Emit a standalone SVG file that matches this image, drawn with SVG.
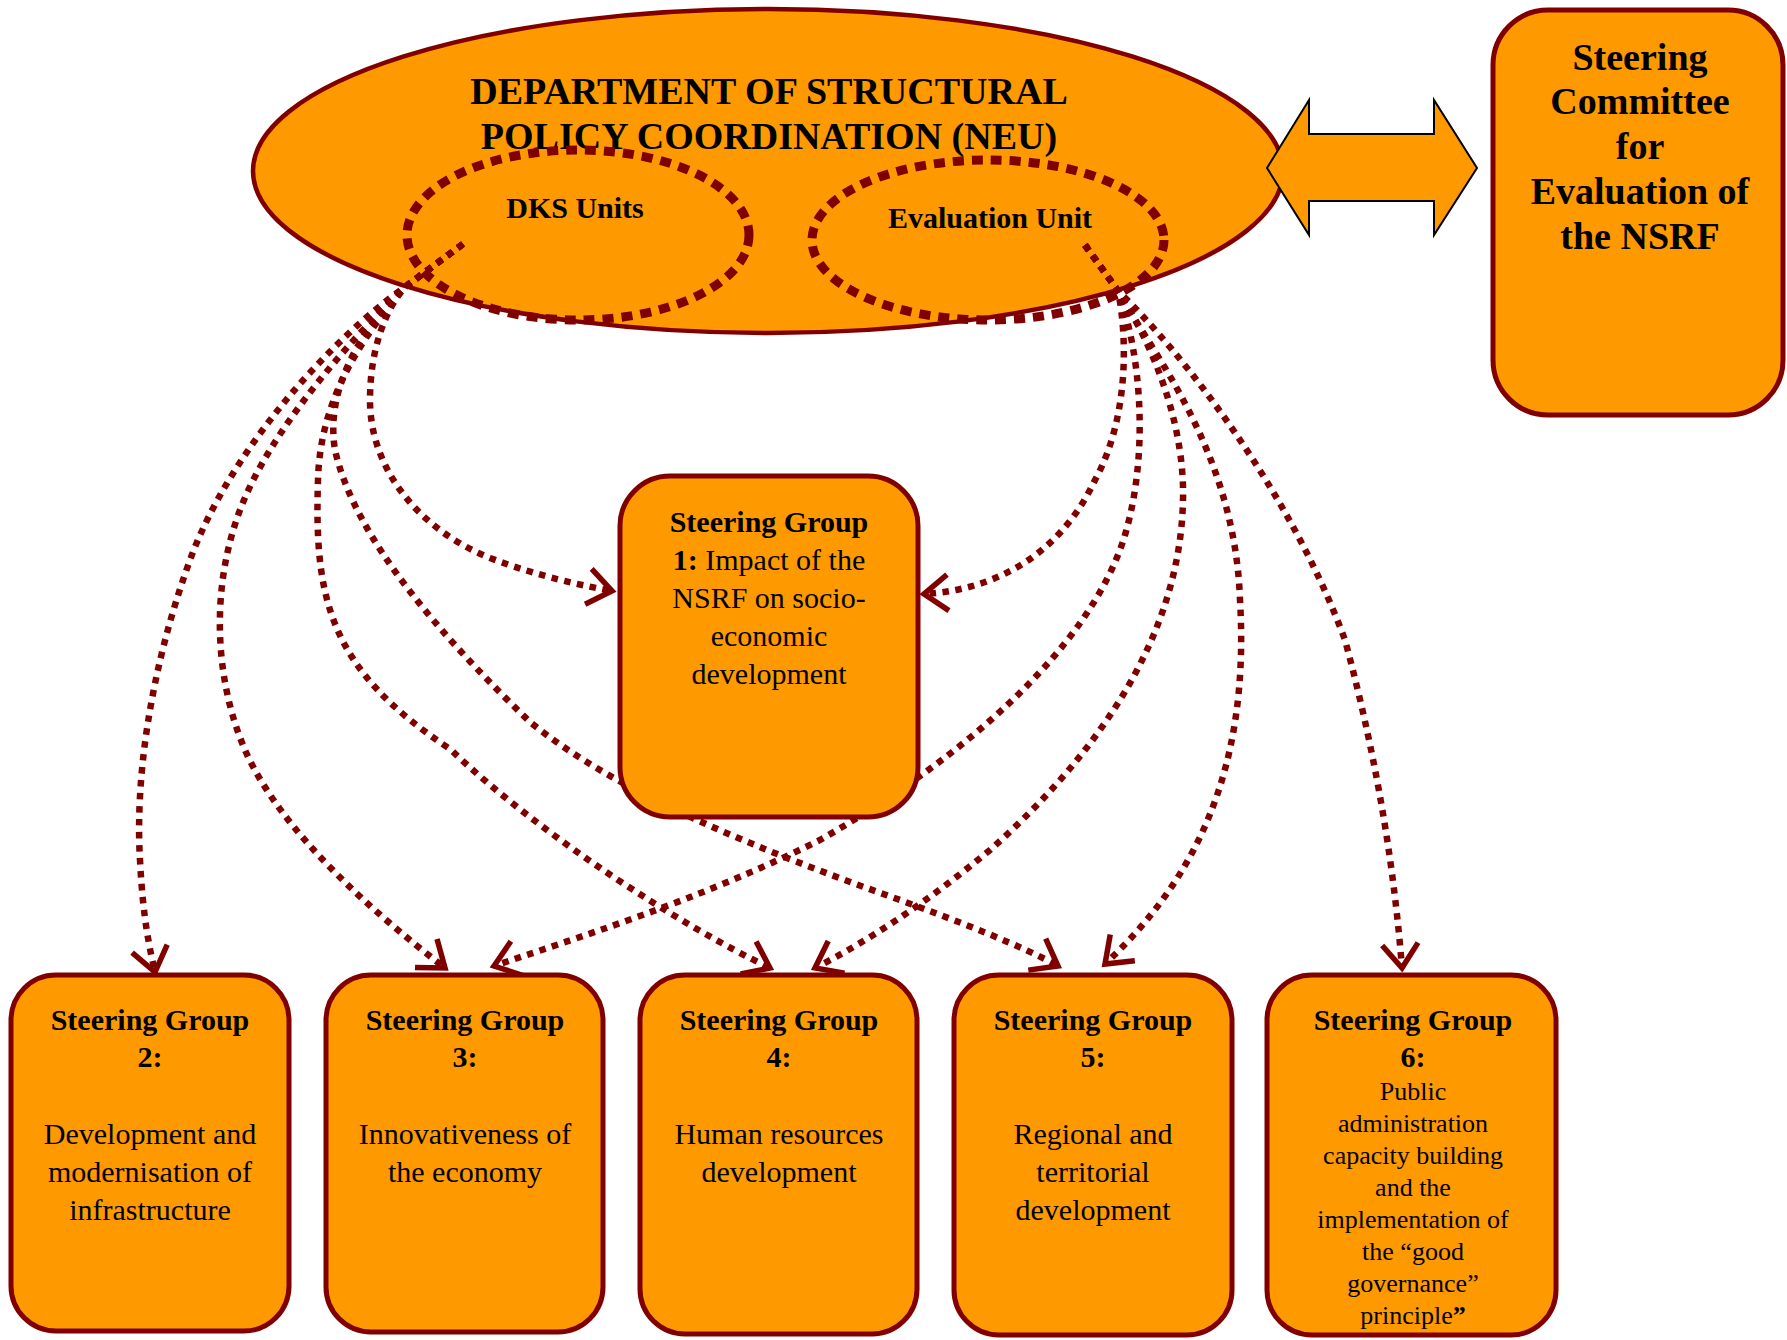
<svg xmlns="http://www.w3.org/2000/svg" width="1787" height="1340" viewBox="0 0 1787 1340">
<style>
.shape{fill:#FF9900;stroke:#800000;stroke-width:5}
.unit{fill:none;stroke:#800000;stroke-width:9;stroke-dasharray:11 8}
.con{fill:none;stroke:#800000;stroke-width:6.5;stroke-dasharray:6.5 6.5;marker-end:url(#arr)}
text{font-family:"Liberation Serif","Times New Roman",serif;fill:#000;text-anchor:middle}
.h{font-size:38px;font-weight:bold}
.u{font-size:30px;font-weight:bold}
.g{font-size:30px;font-weight:bold}
.r{font-size:30px}
.s{font-size:26px}
.bold{font-weight:bold}
</style>
<defs>
<marker id="arr" markerUnits="userSpaceOnUse" markerWidth="40" markerHeight="44" viewBox="0 0 40 44" refX="32" refY="22" orient="auto">
<path d="M8,4 L32,22 L8,40" fill="none" stroke="#800000" stroke-width="5.5" stroke-dasharray="none"/>
</marker>
</defs>
<g id="department">
<ellipse cx="768" cy="171" rx="515" ry="162" fill="#FF9900" stroke="#800000" stroke-width="4.5"/>
<text class="h" x="769" y="104">DEPARTMENT OF STRUCTURAL</text>
<text class="h" x="769" y="149">POLICY COORDINATION (NEU)</text>
</g>
<g id="dks-units">
<ellipse class="unit" cx="578" cy="235" rx="171" ry="85"/>
<text class="u" x="575" y="218">DKS Units</text>
</g>
<g id="evaluation-unit">
<ellipse class="unit" cx="988" cy="240" rx="176" ry="80"/>
<text class="u" x="990" y="228">Evaluation Unit</text>
</g>
<g id="double-arrow">
<polygon points="1267,168 1309,100 1309,134 1434,134 1434,100 1477,168 1434,235 1434,201 1309,201 1309,235" fill="#FF9900" stroke="#000" stroke-width="2"/>
</g>
<g id="steering-committee">
<rect class="shape" x="1493" y="10" width="290" height="405" rx="55"/>
<text class="h" x="1640" y="70">Steering</text>
<text class="h" x="1640" y="114">Committee</text>
<text class="h" x="1640" y="159">for</text>
<text class="h" x="1640" y="204">Evaluation of</text>
<text class="h" x="1640" y="249">the NSRF</text>
</g>
<g id="connectors">
<path class="con" d="M463,244 L405,287 C385,310 370,350 370,400 C370,470 420,530 490,558 C540,577 585,586 612,591"/>
<path class="con" d="M463,244 L405,287 C330,340 230,450 190,560 C150,670 135,780 140,860 C143,920 150,950 155,972"/>
<path class="con" d="M463,244 L405,287 C350,340 270,430 240,510 C210,590 215,680 245,750 C280,830 370,910 445,968"/>
<path class="con" d="M463,244 L405,287 C360,340 320,400 318,480 C314,600 330,670 450,749 C540,835 680,925 770,968"/>
<path class="con" d="M463,244 L405,287 C360,330 325,390 335,450 C355,540 445,640 530,722 C620,795 760,850 900,900 C960,922 1020,945 1058,966"/>
<path class="con" d="M1085,245 L1118,291 C1128,340 1128,420 1095,480 C1060,555 995,590 924,594"/>
<path class="con" d="M1085,245 L1118,291 C1140,350 1150,450 1125,535 C1090,650 960,760 820,840 C700,900 570,940 494,966"/>
<path class="con" d="M1085,245 L1118,291 C1150,340 1185,420 1183,500 C1180,650 1080,770 990,850 C930,900 870,940 815,968"/>
<path class="con" d="M1085,245 L1118,291 C1150,350 1235,450 1240,600 C1250,770 1195,880 1105,964"/>
<path class="con" d="M1085,245 L1118,291 C1180,350 1290,490 1345,640 C1380,770 1395,880 1402,968"/>
</g>
<g id="steering-group-1">
<rect class="shape" x="620" y="476" width="298" height="341" rx="50"/>
<text class="g" x="769" y="532">Steering Group</text>
<text class="r" x="769" y="570"><tspan class="bold">1:</tspan> Impact of the</text>
<text class="r" x="769" y="608">NSRF on socio-</text>
<text class="r" x="769" y="646">economic</text>
<text class="r" x="769" y="684">development</text>
</g>
<g id="steering-group-2">
<rect class="shape" x="11" y="975" width="278" height="356" rx="45"/>
<text class="g" x="150" y="1030">Steering Group</text>
<text class="g" x="150" y="1067">2:</text>
<text class="r" x="150" y="1144">Development and</text>
<text class="r" x="150" y="1182">modernisation of</text>
<text class="r" x="150" y="1220">infrastructure</text>
</g>
<g id="steering-group-3">
<rect class="shape" x="326" y="975" width="277" height="357" rx="45"/>
<text class="g" x="465" y="1030">Steering Group</text>
<text class="g" x="465" y="1067">3:</text>
<text class="r" x="465" y="1144">Innovativeness of</text>
<text class="r" x="465" y="1182">the economy</text>
</g>
<g id="steering-group-4">
<rect class="shape" x="640" y="975" width="277" height="359" rx="45"/>
<text class="g" x="779" y="1030">Steering Group</text>
<text class="g" x="779" y="1067">4:</text>
<text class="r" x="779" y="1144">Human resources</text>
<text class="r" x="779" y="1182">development</text>
</g>
<g id="steering-group-5">
<rect class="shape" x="954" y="975" width="278" height="360" rx="45"/>
<text class="g" x="1093" y="1030">Steering Group</text>
<text class="g" x="1093" y="1067">5:</text>
<text class="r" x="1093" y="1144">Regional and</text>
<text class="r" x="1093" y="1182">territorial</text>
<text class="r" x="1093" y="1220">development</text>
</g>
<g id="steering-group-6">
<rect class="shape" x="1267" y="975" width="289" height="360" rx="45"/>
<text class="g" x="1413" y="1030">Steering Group</text>
<text class="g" x="1413" y="1067">6:</text>
<text class="s" x="1413" y="1100">Public</text>
<text class="s" x="1413" y="1132">administration</text>
<text class="s" x="1413" y="1164">capacity building</text>
<text class="s" x="1413" y="1196">and the</text>
<text class="s" x="1413" y="1228">implementation of</text>
<text class="s" x="1413" y="1260">the “good</text>
<text class="s" x="1413" y="1292">governance”</text>
<text class="s" x="1413" y="1324">principle<tspan class="bold">”</tspan></text>
</g>
</svg>
